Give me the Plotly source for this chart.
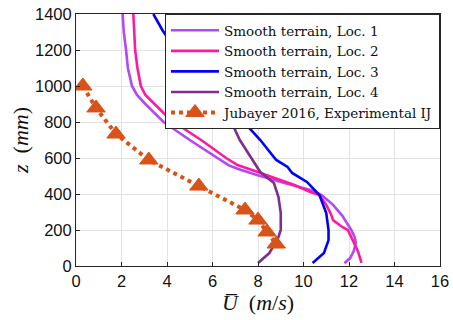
import plotly.graph_objects as go

# Data (velocity U in m/s, height z in mm)
loc1_z = [1400, 1300, 1200, 1100, 1000, 950, 900, 850, 800, 700, 600, 560, 540, 505, 460, 422, 394, 340, 280, 239, 200, 160, 128, 80, 44, 15]
loc1_u = [2.05, 2.1, 2.2, 2.28, 2.46, 2.68, 3.05, 3.45, 3.85, 5.0, 6.2, 6.7, 7.1, 7.95, 9.2, 10.3, 10.8, 11.3, 11.7, 11.9, 12.1, 12.25, 12.3, 12.2, 12.05, 11.8]

loc2_z = [1400, 1300, 1200, 1100, 1000, 950, 900, 850, 800, 700, 600, 561, 530, 500, 450, 411, 394, 340, 290, 255, 217, 200, 160, 128, 80, 17]
loc2_u = [2.52, 2.55, 2.6, 2.7, 2.85, 3.05, 3.45, 3.85, 4.3, 5.5, 6.6, 7.1, 7.8, 8.5, 9.6, 10.3, 10.7, 11.0, 11.2, 11.3, 11.7, 11.95, 12.1, 12.25, 12.4, 12.55]

loc3_z = [1400, 1310, 1200, 1100, 1000, 900, 811, 700, 589, 550, 517, 467, 394, 294, 200, 144, 72, 17]
loc3_u = [3.4, 3.8, 4.4, 5.0, 5.6, 6.4, 7.3, 8.1, 8.8, 9.3, 9.5, 10.15, 10.7, 11.0, 11.1, 11.1, 10.9, 10.4]

loc4_z = [1400, 1200, 1000, 900, 794, 700, 600, 522, 461, 405, 383, 294, 200, 161, 72, 17]
loc4_u = [5.4, 5.7, 6.1, 6.45, 6.85, 7.2, 7.7, 8.1, 8.7, 8.85, 8.9, 9.0, 9.0, 8.9, 8.5, 8.0]

exp_z = [1000, 878, 733, 589, 444, 311, 255, 189, 122]
exp_u = [0.3, 0.88, 1.76, 3.2, 5.4, 7.43, 8.0, 8.4, 8.8]

names = ["Smooth terrain, Loc. 1", "Smooth terrain, Loc. 2",
         "Smooth terrain, Loc. 3", "Smooth terrain, Loc. 4",
         "Jubayer 2016, Experimental IJ"]
x_ticks = [0, 2, 4, 6, 8, 10, 12, 14, 16]
y_ticks = [0, 200, 400, 600, 800, 1000, 1200, 1400]

fig = go.Figure()
for u, z, name, color in [
    (loc1_u, loc1_z, names[0], "#B547F8"),
    (loc2_u, loc2_z, names[1], "#FF1A9C"),
    (loc3_u, loc3_z, names[2], "#0000FF"),
    (loc4_u, loc4_z, names[3], "#7E2F8E"),
]:
    fig.add_trace(go.Scatter(x=u, y=z, mode="lines", name=name,
                             line=dict(color=color, width=2.6)))

fig.add_trace(go.Scatter(x=exp_u, y=exp_z, mode="lines+markers", name=names[4],
                         line=dict(color="#D95319", width=4, dash="dot"),
                         marker=dict(symbol="triangle-up", size=16, color="#D95319",
                                     line=dict(color="#D95319", width=1))))

axis_common = dict(showgrid=True, gridcolor="#E3E3E3", gridwidth=1,
                   showline=True, linecolor="#262626", linewidth=1, mirror=True,
                   ticks="inside", ticklen=4, tickcolor="#262626",
                   tickfont=dict(family="Liberation Sans, Arial", size=16.5, color="#111"),
                   zeroline=False, automargin=False, ticklabeloverflow="allow")

fig.update_layout(
    width=453, height=320,
    margin=dict(l=76, r=13, t=14, b=54),
    paper_bgcolor="white", plot_bgcolor="white",
    xaxis=dict(range=[0, 16], tickvals=x_ticks, **axis_common,
               title=dict(text="<i>U\u0305</i>  (<i>m</i>/<i>s</i>)",
                          font=dict(family="Liberation Serif, DejaVu Serif", size=22, color="#111"),
                          standoff=0)),
    yaxis=dict(range=[0, 1400], tickvals=y_ticks, **axis_common,
               title=dict(text="<i>z</i>  (<i>mm</i>)",
                          font=dict(family="Liberation Serif, DejaVu Serif", size=22, color="#111"),
                          standoff=0)),
    legend=dict(x=1, y=1, xanchor="right", yanchor="top",
                bgcolor="white", bordercolor="#262626", borderwidth=1,
                font=dict(family="DejaVu Serif, Liberation Serif", size=13.5, color="#111"),
                itemwidth=48, tracegroupgap=0),
    showlegend=True,
)

# remove the browser's default 8 px body margin so the figure fills the window
fig.write_html("out.html", config={"displayModeBar": False},
               post_script="document.body.style.margin='0px';document.body.style.overflow='hidden';")
